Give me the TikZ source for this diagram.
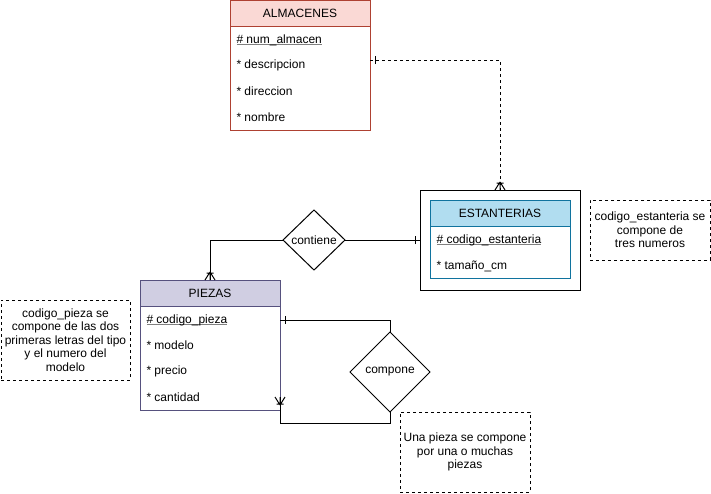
\documentclass[tikz,border=0pt]{standalone}
\usepackage{fontspec}
\setmainfont{Liberation Sans}
\usepackage{tikz}
\usetikzlibrary{shapes.geometric,positioning,decorations.markings}
\definecolor{almfill}{HTML}{FAD9D5}
\definecolor{almline}{HTML}{AE4132}
\definecolor{estfill}{HTML}{B1DDF0}
\definecolor{estline}{HTML}{10739E}
\definecolor{piefill}{HTML}{D0CEE2}
\definecolor{pieline}{HTML}{56517E}
\newcommand\keyline[1]{\setbox0\hbox{#1}\rlap{\textcolor{gray}{\rule[-1.6pt]{\wd0}{0.8pt}}}\box0}
\tikzset{
  entity/.style={draw,minimum width=140pt,inner sep=0pt,outer sep=0pt},
  head/.style={entity,minimum height=26pt,anchor=north},
  attr/.style={anchor=west,inner sep=0pt},
  rel/.style={draw,diamond,inner sep=0pt,outer sep=0pt},
  note/.style={draw,dash pattern=on 3pt off 3pt,align=center,inner sep=0pt,outer sep=0pt,
    font=\fontsize{12}{13.5}\selectfont},
  link/.style={draw},
  one start/.style={postaction={decorate,decoration={markings,
    mark=at position 5pt with {\draw[solid] (0,-4pt)--(0,4pt);}}}},
  one end/.style={postaction={decorate,decoration={markings,
    mark=at position -5pt with {\draw[solid] (0,-4pt)--(0,4pt);}}}},
  many end/.style={postaction={decorate,decoration={markings,
    mark=at position 1 with {\draw[solid] (-8pt,0)--(0,5pt) (-8pt,0)--(0,-5pt) (-7pt,-3.5pt)--(-7pt,3.5pt) (-8pt,0)--(0,0);}}}}
}

\begin{document}
\begin{tikzpicture}[x=1pt,y=-1pt,line width=1pt,font=\fontsize{12}{14}\selectfont]
  \useasboundingbox (0,0) rectangle (711,493);
  % almacenes
  \node[entity,draw=almline,minimum height=130pt] (alm) at (300,65) {};
  \node[head,draw=almline,fill=almfill] (almh) at (alm.north) {ALMACENES};
  \node[attr] (a1) at ([shift={(6pt,-40pt)}]alm.north west) {\keyline{\# num\_almacen}};
  \node[attr] (a2) at ([shift={(6pt,-65pt)}]alm.north west) {* descripcion};
  \node[attr] (a3) at ([shift={(6pt,-91pt)}]alm.north west) {* direccion};
  \node[attr] (a4) at ([shift={(6pt,-117pt)}]alm.north west) {* nombre};
  % estanterias
  \node[entity,minimum width=160pt,minimum height=100pt] (est) at (500,240) {};
  \node[entity,draw=estline,minimum height=78pt] (estb) at (500,239) {};
  \node[head,draw=estline,fill=estfill,minimum height=26.7pt] (esth) at (estb.north) {ESTANTERIAS};
  \node[attr] (e1) at ([shift={(6pt,-40pt)}]estb.north west) {\keyline{\# codigo\_estanteria}};
  \node[attr] (e2) at ([shift={(6pt,-66pt)}]estb.north west) {* tamaño\_cm};
  % piezas
  \node[entity,draw=pieline,minimum height=130pt] (pie) at (210,345) {};
  \node[head,draw=pieline,fill=piefill] (pieh) at (pie.north) {PIEZAS};
  \node[attr] (p1) at ([shift={(6pt,-40pt)}]pie.north west) {\keyline{\# codigo\_pieza}};
  \node[attr] (p2) at ([shift={(6pt,-65pt)}]pie.north west) {* modelo};
  \node[attr] (p3) at ([shift={(6pt,-91pt)}]pie.north west) {* precio};
  \node[attr] (p4) at ([shift={(6pt,-117pt)}]pie.north west) {* cantidad};
  % relaciones
  \node[rel,minimum width=62pt,minimum height=60pt] (con) at (314,240) {contiene};
  \node[rel,minimum width=80pt,minimum height=80pt] (com) at (390,372) {compone};
  % notas
  \node[note,minimum width=129pt,minimum height=80pt] (n1) at (65.5,340)
    {codigo\_pieza se\\compone de las dos\\primeras letras del tipo\\y el numero del\\modelo};
  \node[note,minimum width=120pt,minimum height=60pt] (n2) at (650,230)
    {codigo\_estanteria se\\compone de\\tres numeros};
  \node[note,minimum width=130pt,minimum height=80pt] (n3) at (465,452)
    {Una pieza se compone\\por una o muchas\\piezas};
  % conexiones
  \draw[link,dash pattern=on 3pt off 3pt,one start,many end] ([yshift=5pt]alm.east) -| (est.north);
  \draw[link,many end] (con.west) -| (pie.north);
  \draw[link,one end] (con.east) -- (est.west);
  \draw[link,one end] (com.north) |- (pie.east |- p1);
  \draw[link,many end] (com.south) |- ([yshift=-13pt]pie.south east) -- (pie.east |- p4);
\end{tikzpicture}
\end{document}
